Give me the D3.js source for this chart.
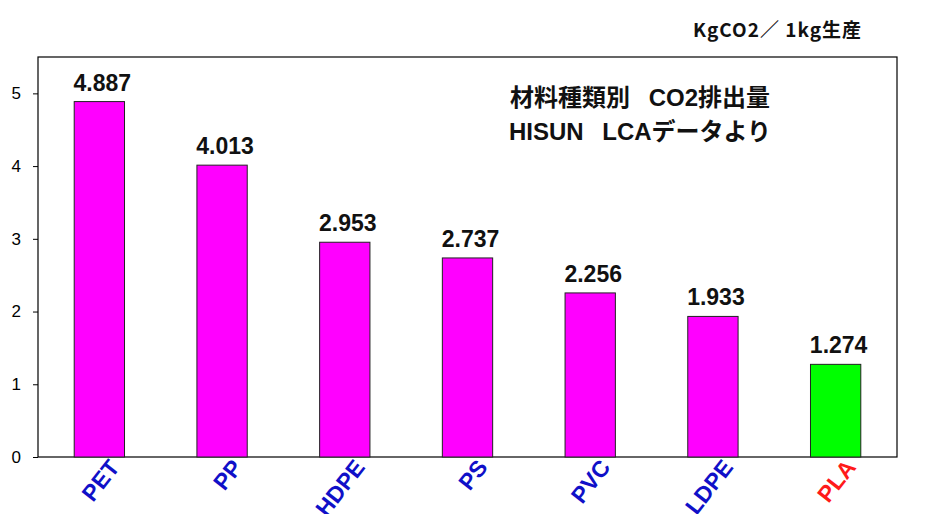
<!DOCTYPE html>
<html>
<head>
<meta charset="utf-8">
<script src="https://d3js.org/d3.v7.min.js"></script>
<style>
  body { margin: 0; background: #fff; }
</style>
</head>
<body>
<div id="chart"></div>
<script>
// data
var materials = ["PET", "PP", "HDPE", "PS", "PVC", "LDPE", "PLA"];
var emissions = [4.887, 4.013, 2.953, 2.737, 2.256, 1.933, 1.274];
var yTicks = [0, 1, 2, 3, 4, 5];

var W = 935, H = 514;
var mLeft = 38, mRight = 897, mTop = 57, mBottom = 457;

var svg = d3.select("#chart").append("svg")
  .attr("width", W)
  .attr("height", H)
  .style("font-family", "'Liberation Sans', Arial, sans-serif");

var x = d3.scaleBand()
  .domain(materials)
  .range([mLeft, mRight])
  .paddingInner(0.59)
  .paddingOuter(0.295);

var y = d3.scaleLinear()
  .domain([0, 5.5])
  .range([mBottom, mTop]);

// plot frame
svg.append("rect")
  .attr("x", mLeft).attr("y", mTop)
  .attr("width", mRight - mLeft).attr("height", mBottom - mTop)
  .attr("fill", "none").attr("stroke", "#000").attr("stroke-width", 1.2);

// y axis
var yAxis = svg.append("g")
  .attr("transform", "translate(" + mLeft + ",0)")
  .call(d3.axisLeft(y).tickValues(yTicks).tickSize(5).tickPadding(12).tickFormat(d3.format("d")));
yAxis.select(".domain").remove();
yAxis.selectAll("text").style("font-size", "17px").attr("fill", "#000");

// bars
svg.selectAll("rect.bar")
  .data(materials)
  .enter()
  .append("rect")
    .attr("class", "bar")
    .attr("x", function(d) { return x(d); })
    .attr("y", function(d, i) { return y(emissions[i]); })
    .attr("width", x.bandwidth())
    .attr("height", function(d, i) { return y(0) - y(emissions[i]); })
    .attr("fill", function(d) { return d == "PLA" ? "#00ff00" : "#ff00ff"; })
    .attr("stroke", "#222")
    .attr("stroke-width", 1);

// value labels
svg.selectAll("text.val")
  .data(materials)
  .enter()
  .append("text")
    .attr("class", "val")
    .attr("x", function(d) { return x(d) + x.bandwidth() / 2 + 3; })
    .attr("y", function(d, i) { return y(emissions[i]) - 11; })
    .attr("text-anchor", "middle")
    .style("font-size", "23px")
    .style("font-weight", "bold")
    .attr("fill", "#111")
    .text(function(d, i) { return emissions[i].toFixed(3); });

// x labels
svg.selectAll("text.cat")
  .data(materials)
  .enter()
  .append("text")
    .attr("class", "cat")
    .attr("transform", function(d) {
      return "translate(" + (x(d) + x.bandwidth() / 2 + 14) + "," + (mBottom + 5) + ") rotate(-52)";
    })
    .attr("text-anchor", "end")
    .attr("dy", "0.4em")
    .style("font-size", "23px")
    .style("font-weight", "bold")
    .attr("fill", function(d) { return d == "PLA" ? "#ff1a1a" : "#1010c8"; })
    .text(function(d) { return d; });

// titles
svg.append("text")
  .attr("x", 640).attr("y", 106)
  .attr("text-anchor", "middle")
  .style("font-family", "'Liberation Sans', 'Noto Sans CJK JP', sans-serif")
  .style("font-size", "24px").style("font-weight", "bold")
  .attr("fill", "#111")
  .text("材料種類別\u2002 CO2排出量");

svg.append("text")
  .attr("x", 640).attr("y", 140)
  .attr("text-anchor", "middle")
  .style("font-family", "'Liberation Sans', 'Noto Sans CJK JP', sans-serif")
  .style("font-size", "24px").style("font-weight", "bold")
  .attr("fill", "#111")
  .text("HISUN\u2002 LCAデータより");

svg.append("text")
  .attr("x", 862).attr("y", 37)
  .attr("text-anchor", "end")
  .style("font-family", "'Noto Sans CJK JP', sans-serif")
  .style("font-size", "19px").style("font-weight", "bold")
  .style("letter-spacing", "1px")
  .attr("fill", "#111")
  .text("KgCO2／ 1kg生産");
</script>
</body>
</html>
